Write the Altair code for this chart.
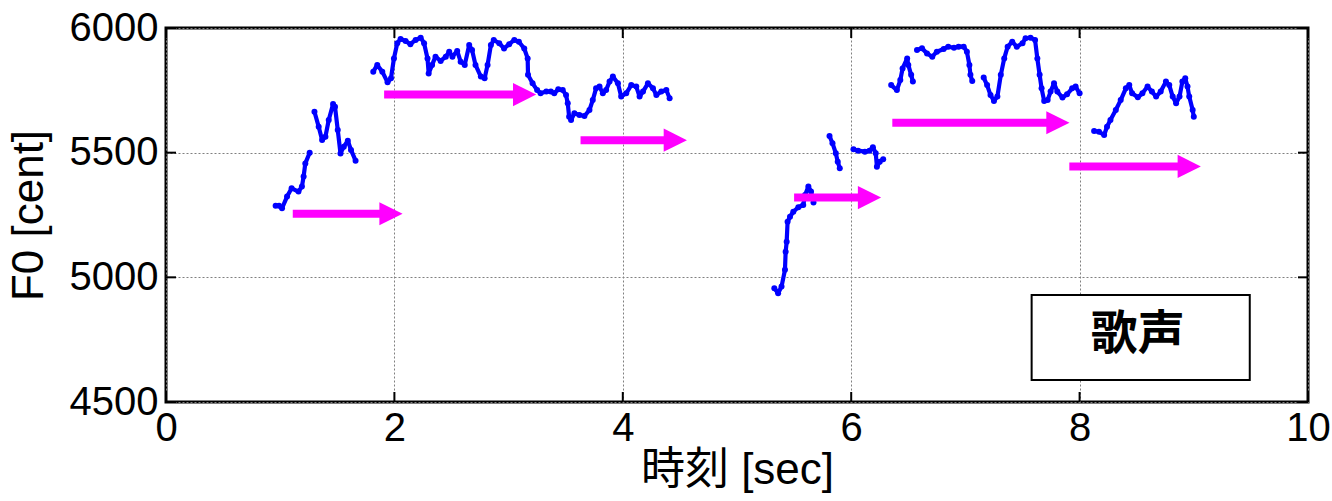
import altair as alt
import pandas as pd

# ---- F0 contour of the singing voice, one list pair per voiced segment ----
seg_t = [
    [0.96, 0.99, 1.016, 1.06, 1.10, 1.16, 1.19, 1.205, 1.22, 1.258],
    [1.30, 1.337, 1.367, 1.396, 1.425, 1.463, 1.48, 1.504, 1.528, 1.557, 1.592, 1.62, 1.66],
    [1.815, 1.85, 1.894, 1.94, 1.97, 1.996, 2.025, 2.054, 2.098, 2.14, 2.186, 2.23, 2.26,
     2.29, 2.30, 2.33, 2.36, 2.405, 2.45, 2.48, 2.508, 2.55, 2.58, 2.616, 2.655, 2.68,
     2.71, 2.757, 2.79, 2.816, 2.845, 2.87, 2.918, 2.96, 3.005, 3.05, 3.09, 3.137, 3.167,
     3.17, 3.21, 3.25, 3.28, 3.33, 3.37, 3.40, 3.435, 3.474, 3.503, 3.518, 3.53, 3.547,
     3.576, 3.62, 3.664, 3.708, 3.737, 3.766, 3.796, 3.825, 3.854, 3.884, 3.913, 3.957,
     3.986, 4.03, 4.074, 4.118, 4.147, 4.177, 4.22, 4.264, 4.294, 4.337, 4.381, 4.41],
    [5.327, 5.36, 5.39, 5.42, 5.426, 5.435, 5.443, 5.464, 5.493, 5.537, 5.58, 5.596,
     5.625, 5.648, 5.67],
    [5.81, 5.836, 5.865, 5.882, 5.90],
    [6.02, 6.06, 6.12, 6.16, 6.19, 6.215, 6.225, 6.25, 6.28],
    [6.35, 6.40, 6.43, 6.45, 6.49, 6.50, 6.525, 6.54],
    [6.576, 6.62, 6.664, 6.71, 6.75, 6.81, 6.85, 6.90, 6.94, 6.985, 7.013, 7.035, 7.044, 7.06],
    [7.16, 7.19, 7.22, 7.25, 7.28, 7.31, 7.34, 7.37, 7.41, 7.45, 7.50, 7.527, 7.57, 7.61,
     7.63, 7.65, 7.667, 7.69, 7.72, 7.746, 7.776, 7.805, 7.85, 7.89, 7.935, 7.965, 8.00],
    [8.127, 8.17, 8.215, 8.24, 8.27, 8.317, 8.36, 8.405, 8.435, 8.46, 8.51, 8.55, 8.595,
     8.633, 8.67, 8.71, 8.756, 8.785, 8.815, 8.845, 8.875, 8.90, 8.925, 8.945, 8.96, 8.99, 9.00],
]
seg_cent = [
    [5287, 5287, 5277, 5324, 5357, 5344, 5364, 5404, 5457, 5500],
    [5664, 5604, 5551, 5564, 5631, 5695, 5684, 5591, 5497, 5524, 5548, 5511, 5468],
    [5825, 5852, 5825, 5782, 5798, 5878, 5939, 5956, 5948, 5935, 5952, 5961, 5939,
     5878, 5818, 5852, 5885, 5868, 5885, 5905, 5885, 5908, 5865, 5852, 5932, 5912,
     5852, 5805, 5798, 5852, 5932, 5952, 5939, 5918, 5935, 5952, 5945, 5918, 5878,
     5812, 5778, 5751, 5738, 5745, 5745, 5738, 5754, 5751, 5731, 5698, 5644, 5631,
     5658, 5651, 5647, 5671, 5711, 5758, 5765, 5738, 5751, 5785, 5805, 5778,
     5725, 5738, 5771, 5765, 5725, 5745, 5778, 5758, 5731, 5745, 5751, 5718],
    [4956, 4936, 4963, 5030, 5103, 5143, 5223, 5243, 5263, 5281, 5290, 5330,
     5364, 5344, 5300],
    [5567, 5538, 5498, 5464, 5437],
    [5514, 5508, 5504, 5508, 5522, 5498, 5444, 5464, 5474],
    [5771, 5751, 5791, 5838, 5878, 5852, 5812, 5785],
    [5912, 5919, 5898, 5885, 5905, 5916, 5925, 5921, 5925, 5925, 5905, 5852, 5812, 5787],
    [5801, 5771, 5731, 5707, 5725, 5812, 5878, 5925, 5945, 5925, 5939, 5959, 5961, 5952,
     5878, 5812, 5758, 5707, 5711, 5745, 5778, 5745, 5721, 5734, 5758, 5765, 5738],
    [5587, 5584, 5571, 5604, 5631, 5671, 5711, 5758, 5771, 5738, 5722, 5738, 5765,
     5745, 5725, 5745, 5785, 5771, 5725, 5698, 5725, 5785, 5798, 5765, 5725, 5671, 5644],
]

# ---- score notes drawn as arrows: onset, offset (arrow tip), pitch ----
note_start = [1.11, 1.91, 3.63, 5.50, 6.36, 7.91]
note_end = [2.07, 3.24, 4.56, 6.26, 7.91, 9.06]
note_cent = [5255, 5733, 5550, 5320, 5620, 5445]

x_ticks = [0, 2, 4, 6, 8, 10]
y_ticks = [4500, 5000, 5500, 6000]

label_text = ["歌声"]
label_box_x = [7.58, 9.49]
label_box_y = [4588, 4929]
label_pos = [8.51, 4768]

W, H = 1142, 374
LATIN = "Liberation Sans, Noto Sans CJK JP"
HEAD = 0.10  # half of the arrow head length, in seconds

rows = []
for s, (ts, cs) in enumerate(zip(seg_t, seg_cent)):
    for i, (t, c) in enumerate(zip(ts, cs)):
        rows.append({"seg": s, "i": i, "t": t, "cent": c})
f0 = pd.DataFrame(rows)

notes = pd.DataFrame({"start": note_start, "end": note_end, "cent": note_cent})
notes["shaft_end"] = notes["end"] - 1.5 * HEAD
notes["head"] = notes["end"] - HEAD

xs = alt.Scale(domain=[0, 10], nice=False, zero=False)
ys = alt.Scale(domain=[4500, 6000], nice=False, zero=False)

x_axis = alt.Axis(values=x_ticks, format="d", title="時刻 [sec]", ticks=False, domain=False,
                  labelFont=LATIN, labelFontSize=40, labelColor="black", labelPadding=6,
                  titleFont=LATIN, titleFontSize=44, titleFontWeight="normal",
                  titleColor="black", titlePadding=0,
                  grid=True, gridColor="#808080", gridDash=[2, 2], gridWidth=1,
                  labelFlush=False, labelOverlap=False)
y_axis = alt.Axis(values=y_ticks, format="d", title="F0 [cent]", ticks=False, domain=False,
                  labelFont=LATIN, labelFontSize=40, labelColor="black", labelPadding=8,
                  titleFont=LATIN, titleFontSize=44, titleFontWeight="normal",
                  titleColor="black", titlePadding=18,
                  grid=True, gridColor="#808080", gridDash=[2, 2], gridWidth=1,
                  labelOverlap=False)

base = alt.Chart(f0)
line = base.mark_line(color="#0000FF", strokeWidth=4.2, strokeJoin="round").encode(
    x=alt.X("t:Q", scale=xs, axis=x_axis),
    y=alt.Y("cent:Q", scale=ys, axis=y_axis),
    detail="seg:N",
    order="i:Q",
)
dots = base.mark_circle(color="#0000FF", size=36, opacity=1).encode(
    x=alt.X("t:Q", scale=xs), y=alt.Y("cent:Q", scale=ys)
)

shaft = alt.Chart(notes).mark_rule(color="#FF00FF", strokeWidth=8).encode(
    x=alt.X("start:Q", scale=xs), x2="shaft_end:Q", y=alt.Y("cent:Q", scale=ys)
)
head = alt.Chart(notes).mark_point(
    shape="M -1 -1 L 1 0 L -1 1 Z", filled=True, color="#FF00FF", opacity=1,
    size=540, strokeWidth=0,
).encode(x=alt.X("head:Q", scale=xs), y=alt.Y("cent:Q", scale=ys))

box_df = pd.DataFrame({"x1": [label_box_x[0]], "x2": [label_box_x[1]],
                       "y1": [label_box_y[0]], "y2": [label_box_y[1]]})
box = alt.Chart(box_df).mark_rect(fill="white", stroke="black", strokeWidth=2).encode(
    x=alt.X("x1:Q", scale=xs), x2="x2:Q", y=alt.Y("y1:Q", scale=ys), y2="y2:Q"
)
txt_df = pd.DataFrame({"x": [label_pos[0]], "y": [label_pos[1]], "s": label_text})
txt = alt.Chart(txt_df).mark_text(
    font="Noto Sans CJK JP", fontSize=47, fontWeight="bold", color="black",
    align="center", baseline="middle",
).encode(x=alt.X("x:Q", scale=xs), y=alt.Y("y:Q", scale=ys), text="s:N")

# inward tick marks on all four sides of the frame
xt_df = pd.DataFrame({"v": x_ticks})
yt_df = pd.DataFrame({"v": y_ticks})
tick_style = dict(color="black", strokeWidth=2)
ticks_b = alt.Chart(xt_df).mark_rule(**tick_style).encode(
    x=alt.X("v:Q", scale=xs), y=alt.value(H), y2=alt.value(H - 10))
ticks_t = alt.Chart(xt_df).mark_rule(**tick_style).encode(
    x=alt.X("v:Q", scale=xs), y=alt.value(0), y2=alt.value(10))
ticks_l = alt.Chart(yt_df).mark_rule(**tick_style).encode(
    y=alt.Y("v:Q", scale=ys), x=alt.value(0), x2=alt.value(10))
ticks_r = alt.Chart(yt_df).mark_rule(**tick_style).encode(
    y=alt.Y("v:Q", scale=ys), x=alt.value(W), x2=alt.value(W - 10))

chart = alt.layer(
    line, dots, shaft, head, box, txt, ticks_b, ticks_t, ticks_l, ticks_r
).properties(
    width=W, height=H,
    padding={"left": 166, "top": 28, "right": 24, "bottom": 99},
    autosize=alt.AutoSizeParams(type="none"),
    background="white",
).configure_view(stroke="black", strokeWidth=3)

chart.save("out.html", embed_options={"renderer": "svg", "actions": False})
